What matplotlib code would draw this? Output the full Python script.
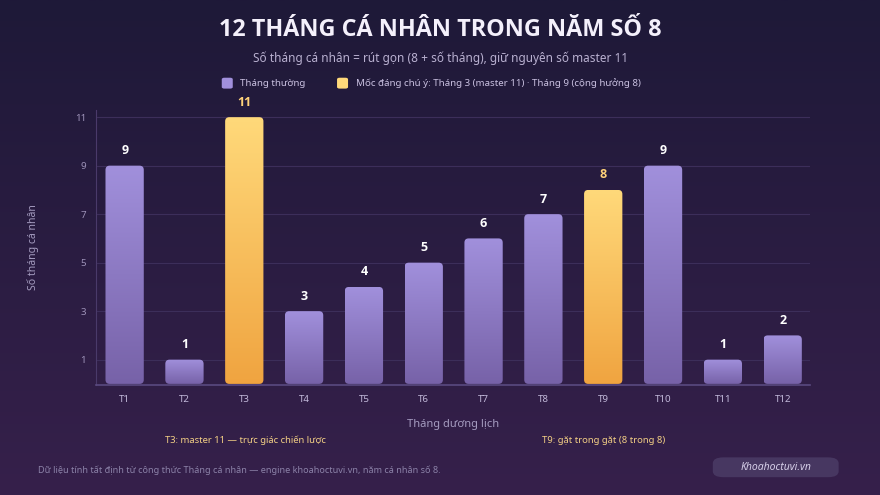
import numpy as np
import matplotlib.pyplot as plt
from matplotlib.patches import FancyBboxPatch
import matplotlib.colors as mcolors

plt.rcParams['font.family'] = ['Noto Sans', 'DejaVu Sans']
BOLD = ['Open Sans', 'Lato', 'DejaVu Sans']

months = ['T1', 'T2', 'T3', 'T4', 'T5', 'T6', 'T7', 'T8', 'T9', 'T10', 'T11', 'T12']
values = [9, 1, 11, 3, 4, 5, 6, 7, 8, 9, 1, 2]
highlight = [False, False, True, False, False, False, False, False, True, False, False, False]
yticks = [1, 3, 5, 7, 9, 11]

title = '12 THÁNG CÁ NHÂN TRONG NĂM SỐ 8'
subtitle = 'Số tháng cá nhân = rút gọn (8 + số tháng), giữ nguyên số master 11'
legend_normal = 'Tháng thường'
legend_hi = 'Mốc đáng chú ý: Tháng 3 (master 11) · Tháng 9 (cộng hưởng 8)'
note_t3 = 'T3: master 11 — trực giác chiến lược'
note_t9 = 'T9: gặt trong gặt (8 trong 8)'
footer = 'Dữ liệu tính tất định từ công thức Tháng cá nhân — engine khoahoctuvi.vn, năm cá nhân số 8.'
badge = 'Khoahoctuvi.vn'

purple_top, purple_bot = '#a190dc', '#7762a8'
gold_top, gold_bot = '#ffd97a', '#f0a440'

fig = plt.figure(figsize=(8.8, 4.95), dpi=100)

# background gradient
bg = fig.add_axes([0, 0, 1, 1], zorder=-10)
grad = np.linspace(0, 1, 256).reshape(-1, 1)
bg_cmap = mcolors.LinearSegmentedColormap.from_list('bg', ['#1e1938', '#36204b'])
bg.imshow(grad, aspect='auto', cmap=bg_cmap, extent=[0, 1, 0, 1], origin='upper')
bg.axis('off')

ax = fig.add_axes([0.109, 0.222, 0.811, 0.556])
ax.set_facecolor('none')
x = np.arange(len(months))
ax.set_xlim(-0.48, 11.45)
ax.set_ylim(-0.05, 11.3)

bars = ax.bar(x, values, width=0.64, color='none', edgecolor='none')
aspect = (11.35 / (0.556 * 495)) / (11.93 / (0.811 * 880))
for rect, hi in zip(bars, highlight):
    x0, w, h = rect.get_x(), rect.get_width(), rect.get_height()
    patch = FancyBboxPatch((x0, 0), w, h, boxstyle='round,pad=0,rounding_size=0.07',
                           mutation_aspect=aspect, facecolor='none', edgecolor='none',
                           transform=ax.transData)
    ax.add_patch(patch)
    top, bot = (gold_top, gold_bot) if hi else (purple_top, purple_bot)
    cm = mcolors.LinearSegmentedColormap.from_list('b', [top, bot])
    im = ax.imshow(grad, aspect='auto', cmap=cm, extent=[x0, x0 + w, 0, h],
                   origin='upper', zorder=2)
    im.set_clip_path(patch)
    ax.text(x0 + w / 2, h + 0.35, str(int(h)), ha='center', va='bottom',
            fontsize=9, fontweight='bold', family=BOLD,
            color='#ffd27a' if hi else 'white', zorder=3)

ax.set_xlim(-0.48, 11.45)
ax.set_ylim(-0.05, 11.3)
ax.set_xticks(x)
ax.set_xticklabels(months, color='#c2b9da', fontsize=7)
ax.set_yticks(yticks)
ax.set_yticklabels([str(v) for v in yticks], color='#9d92b8', fontsize=7)
ax.tick_params(length=0, pad=7)
ax.grid(axis='y', color='#3c2e5a', linewidth=0.8)
ax.set_axisbelow(True)
for s in ['top', 'right']:
    ax.spines[s].set_visible(False)
ax.spines['left'].set_color('#4a3a6a')
ax.spines['bottom'].set_color('#5a4a80')
ax.spines['bottom'].set_linewidth(1.2)
ax.set_xlabel('Tháng dương lịch', color='#a59cc0', fontsize=8, labelpad=11)
ax.set_ylabel('Số tháng cá nhân', color='#a59cc0', fontsize=7.5, labelpad=26)

fig.text(0.5, 0.94, title, ha='center', va='center', fontsize=16.8,
         fontweight='bold', family=BOLD, color='#f4f0fb')
fig.text(0.5, 0.883, subtitle, ha='center', va='center', fontsize=8.5, color='#b9b0d0')

# legend
for lx, label, col in [(0.252, legend_normal, purple_top), (0.383, legend_hi, gold_top)]:
    fig.patches.append(FancyBboxPatch((lx, 0.821), 0.0125, 0.022,
                                      boxstyle='round,pad=0,rounding_size=0.003',
                                      transform=fig.transFigure, facecolor=col,
                                      edgecolor='none'))
    fig.text(lx + 0.021, 0.832, label, ha='left', va='center', fontsize=7.0, color='#c9c0e0')

fig.text(0.279, 0.111, note_t3, ha='center', va='center', fontsize=6.8, color='#f3cf85')
fig.text(0.686, 0.111, note_t9, ha='center', va='center', fontsize=6.8, color='#f3cf85')
fig.text(0.043, 0.05, footer, ha='left', va='center', fontsize=6.55, color='#8c82a8')

fig.patches.append(FancyBboxPatch((0.81, 0.036), 0.143, 0.04,
                                  boxstyle='round,pad=0,rounding_size=0.012',
                                  transform=fig.transFigure, facecolor='#4a3a64',
                                  edgecolor='none', alpha=0.9))
fig.text(0.8815, 0.056, badge, ha='center', va='center', fontsize=7.5,
         style='italic', color='#d6cfe8')

fig.savefig('out.png', dpi=100)
